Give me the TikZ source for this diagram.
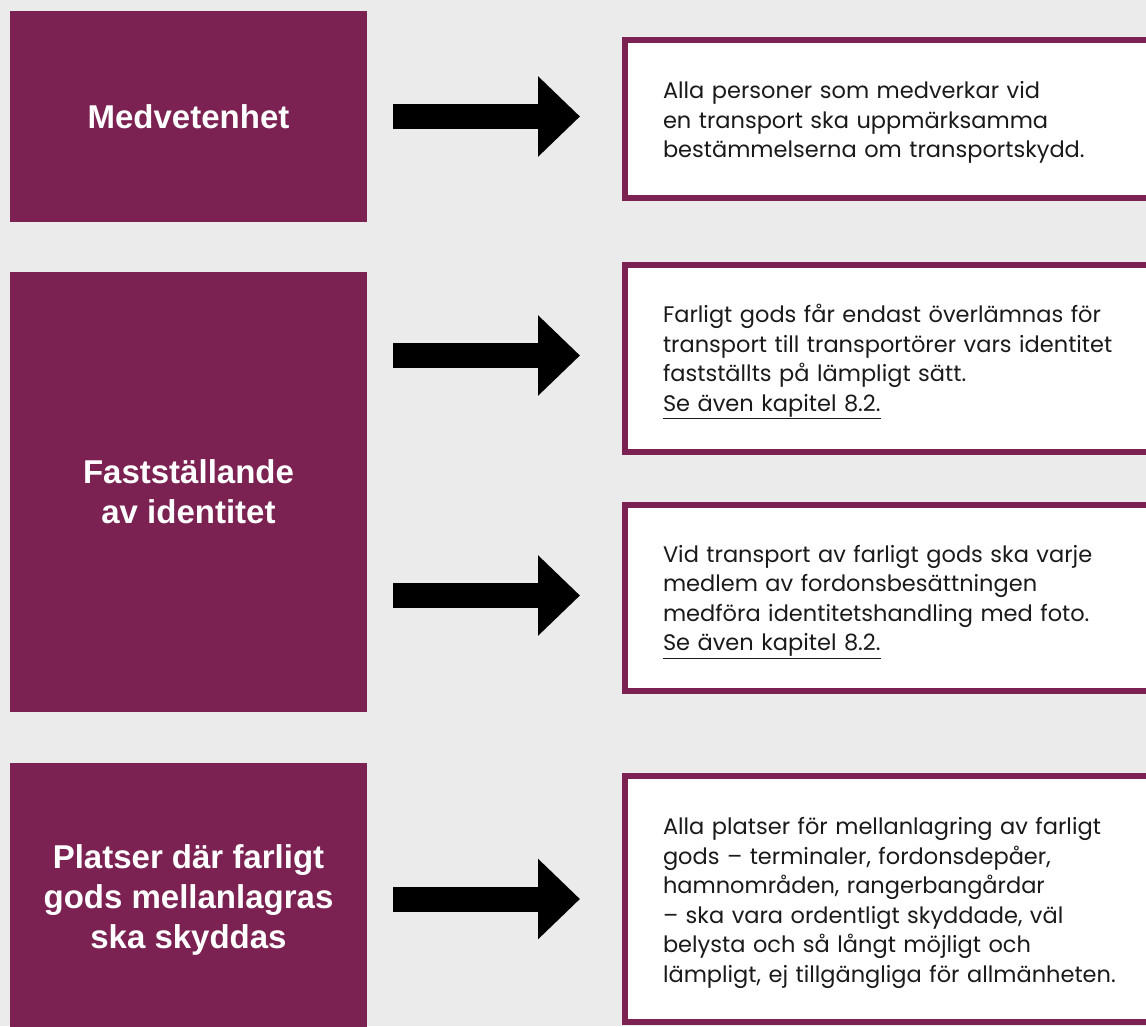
\documentclass[tikz,border=0pt]{standalone}
\usepackage{fontspec}
\setmainfont{Poppins}
\newfontfamily\headfont{Liberation Sans}
\usetikzlibrary{arrows.meta,positioning}
\definecolor{plum}{HTML}{7B2252}
\definecolor{panel}{HTML}{EBEBEB}
\definecolor{ink}{HTML}{1A1A1A}

\begin{document}
\begin{tikzpicture}[x=1pt,y=-1pt,
	topic/.style={fill=plum,text=white,align=center,inner sep=0pt,outer sep=0pt,
		minimum width=357pt,font=\headfont\bfseries\fontsize{33}{40}\selectfont},
	note/.style={draw=plum,line width=6pt,fill=white,anchor=west,align=left,
		text width=500pt,inner xsep=38pt,text=ink,font=\fontsize{22.5}{29.5}\selectfont,
		execute at begin node={\rule{0pt}{\dimexpr\fontcharht\font`l+8pt\relax}}},
	blockarrow/.style={line width=25pt,-{Triangle[length=42pt,width=78pt]},
		shorten <=26pt,shorten >=42pt}]
\useasboundingbox (0,0) rectangle (1146,1026);
\clip (0,0) rectangle (1146,1026);
\fill[panel] (0,0) rectangle (1146,1026);

% left column
\node[topic,minimum height=211pt] (m1) at (188.5,116.5) {Medvetenhet};
\node[topic,minimum height=440pt] (m2) at (188.5,492) {Fastställande\\av identitet};
\node[topic,minimum height=274pt] (m3) at (188.5,900) {Platser där farligt\\gods mellanlagras\\ska skyddas};

% right column
\node[note,minimum height=158pt] (r1) at (622,119) {Alla personer som medverkar vid\\en transport ska uppmärksamma\\bestämmelserna om transportskydd.};
\node[note,minimum height=187pt] (r2) at (622,358.5) {Farligt gods får endast överlämnas för\\transport till transportörer vars identitet\\fastställts på lämpligt sätt.\\\underline{Se även kapitel 8.2.}};
\node[note,minimum height=186pt] (r3) at (622,598) {Vid transport av farligt gods ska varje\\medlem av fordonsbesättningen\\medföra identitetshandling med foto.\\\underline{Se även kapitel 8.2.}};
\node[note,minimum height=246pt] (r4) at (622,899) {Alla platser för mellanlagring av farligt\\gods -- terminaler, fordonsdepåer,\\hamnområden, rangerbangårdar\\-- ska vara ordentligt skyddade, väl\\belysta och så långt möjligt och\\lämpligt, ej tillgängliga för allmänheten.};

% arrows
\draw[blockarrow,transform canvas={yshift=2.5pt}] (m1.east |- r1.west) -- (r1.west);
\draw[blockarrow,transform canvas={yshift=3pt}] (m2.east |- r2.west) -- (r2.west);
\draw[blockarrow,transform canvas={yshift=2.5pt}] (m2.east |- r3.west) -- (r3.west);
\draw[blockarrow] (m3.east |- r4.west) -- (r4.west);
\end{tikzpicture}
\end{document}
